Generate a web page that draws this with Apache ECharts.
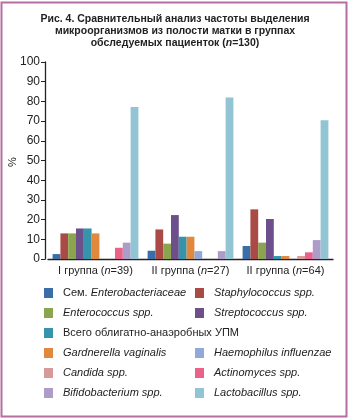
<!DOCTYPE html>
<html lang="ru">
<head>
    <meta charset="utf-8"/>
    <title>Рис. 4</title>
    <script src="https://cdn.jsdelivr.net/npm/echarts@6/dist/echarts.min.js"></script>
</head>
<body style="margin:0;background:#fff">
<div id="chart" style="width:350px;height:419px;"></div>
<script type="text/javascript">
    // группы
    var groupNames = ['I группа', 'II группа', 'II группа'];
    var groupN = [39, 27, 64];

    // значения, %
    var enterobacteriaceae = [2.5, 4.2, 6.6];
    var staphylococcus = [13, 15, 25.2];
    var enterococcus = [13, 7.8, 8.3];
    var streptococcus = [15.5, 22.3, 20.3];
    var anaerobes = [15.5, 11.3, 1.5];
    var gardnerella = [13, 11.3, 1.5];
    var haemophilus = [0, 4, 0];
    var candida = [0, 0, 1.5];
    var actinomyces = [5.7, 0, 3.4];
    var bifidobacterium = [8.3, 4, 9.6];
    var lactobacillus = [77.2, 82, 70.4];

    var yTicks = [0, 10, 20, 30, 40, 50, 60, 70, 80, 90, 100];

    var seriesNames = ['Сем. Enterobacteriaceae', 'Staphylococcus spp.', 'Enterococcus spp.',
        'Streptococcus spp.', 'Всего облигатно-анаэробных УПМ', 'Gardnerella vaginalis',
        'Haemophilus influenzae', 'Candida spp.', 'Actinomyces spp.',
        'Bifidobacterium spp.', 'Lactobacillus spp.'];
    var seriesData = [enterobacteriaceae, staphylococcus, enterococcus, streptococcus, anaerobes,
        gardnerella, haemophilus, candida, actinomyces, bifidobacterium, lactobacillus];
    var colors = ['#3a6ea8', '#a94a47', '#8ba54f', '#6d4f8b', '#3594aa', '#e0883e',
        '#92a9d8', '#d89a98', '#ea6189', '#ac9cc7', '#93c4d4'];

    var font = '"Liberation Sans", Arial, sans-serif';
    var categories = [];
    for (var i = 0; i < groupNames.length; i++) {
        categories.push(groupNames[i] + ' ({i|n}=' + groupN[i] + ')');
    }

    var series = [];
    for (var k = 0; k < seriesNames.length; k++) {
        series.push({
            name: seriesNames[k],
            type: 'bar',
            data: seriesData[k],
            barWidth: 7.8,
            barGap: '0%',
            itemStyle: {color: colors[k]}
        });
    }

    // легенда: подписи с курсивом
    function legendText(name) {
        if (name === 'Сем. Enterobacteriaceae') return 'Сем. {i|Enterobacteriaceae}';
        if (name === 'Всего облигатно-анаэробных УПМ') return '{r|' + name + '}';
        return '{i|' + name + '}';
    }
    var legendStyle = {
        orient: 'vertical',
        padding: 0,
        itemWidth: 9,
        itemHeight: 10,
        itemGap: 8,
        icon: 'rect',
        formatter: legendText,
        textStyle: {
            fontFamily: font, fontSize: 11, color: '#222', lineHeight: 12,
            padding: [0, 0, 0, 5],
            rich: {
                i: {fontFamily: font, fontSize: 11, fontStyle: 'italic', color: '#222', lineHeight: 12},
                r: {fontFamily: font, fontSize: 11, color: '#222', lineHeight: 12}
            }
        }
    };
    function makeLegend(data, left, top) {
        var l = Object.assign({}, legendStyle);
        l.data = data;
        l.left = left;
        l.top = top;
        return l;
    }

    var myChart = echarts.init(document.getElementById('chart'));
    var option = {
        animation: false,
        textStyle: {fontFamily: font},
        title: {
            text: 'Рис. 4. Сравнительный анализ частоты выделения\nмикроорганизмов из полости матки в группах\nобследуемых пациенток ({i|n}=130)',
            left: 'center',
            top: 8,
            textStyle: {
                fontFamily: font, fontSize: 10.5, fontWeight: 'bold', color: '#222', lineHeight: 12,
                rich: {i: {fontFamily: font, fontSize: 10.5, fontWeight: 'bold', fontStyle: 'italic', color: '#222'}}
            }
        },
        legend: [
            makeLegend([seriesNames[0], seriesNames[2], seriesNames[4], seriesNames[5], seriesNames[7], seriesNames[9]], 44, 287),
            makeLegend([seriesNames[1], seriesNames[3]], 195, 287),
            makeLegend([seriesNames[6], seriesNames[8], seriesNames[10]], 195, 347)
        ],
        grid: {left: 48, right: 17, top: 62, bottom: 160, outerBoundsMode: 'none', containLabel: false},
        xAxis: {
            type: 'category',
            data: categories,
            axisLine: {lineStyle: {color: '#222', width: 1.3}},
            axisTick: {show: false},
            axisLabel: {
                interval: 0,
                fontFamily: font, fontSize: 11, color: '#222', margin: 6,
                rich: {i: {fontFamily: font, fontSize: 11, fontStyle: 'italic', color: '#222'}}
            }
        },
        yAxis: {
            type: 'value',
            min: yTicks[0],
            max: yTicks[yTicks.length - 1],
            interval: 10,
            offset: 3,
            splitLine: {show: false},
            axisLine: {show: true, lineStyle: {color: '#222', width: 1.3}},
            axisTick: {show: true, length: 4, lineStyle: {color: '#222'}},
            axisLabel: {fontFamily: font, fontSize: 12, color: '#222', margin: 5}
        },
        graphic: [{
            type: 'rect',
            shape: {x: 1.5, y: 2.5, width: 345, height: 414},
            style: {fill: 'none', stroke: '#b66ea2', lineWidth: 2},
            silent: true
        }, {
            // подпись оси Y
            type: 'text',
            x: 13,
            y: 162,
            rotation: Math.PI / 2,
            style: {
                text: '%', fontFamily: font, fontSize: 11, fill: '#222',
                align: 'center', verticalAlign: 'middle'
            },
            silent: true
        }],
        series: series
    };
    myChart.setOption(option);
</script>
</body>
</html>
